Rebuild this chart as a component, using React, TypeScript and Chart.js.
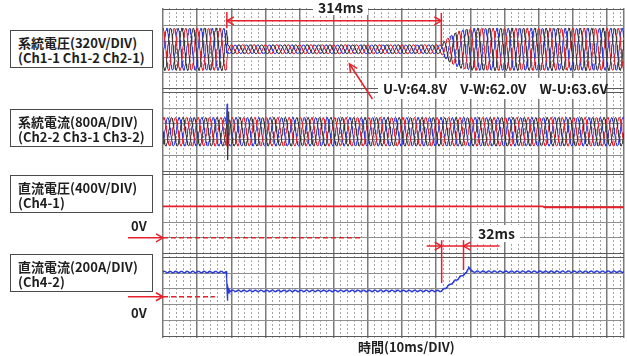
import React, { useEffect, useRef } from 'react';
import { Chart, registerables } from 'chart.js';

Chart.register(...registerables);

// ---------------- time base ----------------
const T_END_MS = 675;
const SAMPLE_MS = 0.4;
const LINE_FREQ_HZ = 60;
const TIME_DIV_MS = 10;
const MAJOR_EVERY_DIVS = 5;

// ---------------- panels ----------------
const DIVS_PER_PANEL = 5;
const PANEL_MARGIN_DIV = 0.127;
const panelIds = ['y1', 'y2', 'y3', 'y4'];
const panelUnitPerDiv = [320, 800, 400, 200];
const panelCentreValue = [0, 0, 600, 0];
const panelTitles = ['系統電圧(320V/DIV)', '系統電流(800A/DIV)', '直流電圧(400V/DIV)', '直流電流(200A/DIV)'];
const panelChannels = ['(Ch1-1 Ch1-2 Ch2-1)', '(Ch2-2 Ch3-1 Ch3-2)', '(Ch4-1)', '(Ch4-2)'];

// ---------------- panel 1: system voltage ----------------
const phaseColors = ['#3b3b3b', '#e3262f', '#2f3bd8'];
const voltagePhaseDeg = [210, 90, -30];
const voltageNormalPeakV = [432, 430, 428];
const voltageDipRmsV = [63.6, 64.8, 62.0];
const voltageEnvTimesMs = [0, 93.4, 94.6, 407.5, 414, 421, 429, 437, 447, 458, 675];
const voltageEnvLevel = [1, 1, 0, 0, 0.3, 0.55, 0.74, 0.88, 0.96, 1, 1];

// ---------------- panel 2: system current ----------------
const currentPeakA = [725, 725, 725];
const currentPhaseDeg = [180, 60, -60];
const currentSpikeTimesMs = [93.2, 94.0, 94.8, 95.6, 96.6, 98.0];
const currentSpikeA = [
  [0, -600, -2100, 300, -80, 0],
  [0, 800, -300, 150, -50, 0],
  [0, 1300, -500, 250, -80, 0],
];

// ---------------- panel 3: DC voltage ----------------
const dcVoltageTimesMs = [0, 556, 559, 675];
const dcVoltageV = [800, 800, 778, 778];
const zeroRefEndMs = [292, 76];

// ---------------- panel 4: DC current ----------------
const dcCurrentTimesMs = [0, 93.4, 94.2, 95.0, 95.8, 96.8, 98, 408, 441, 444, 448, 452, 458, 675];
const dcCurrentA = [316, 316, -60, 130, 40, 95, 76, 76, 290, 300, 386, 322, 320, 320];
const DC_RIPPLE_A = 9;
const DC_RIPPLE_HZ = 120;

// ---------------- annotations ----------------
const dipSpanMs = [93.5, 407.5];
const dcRampSpanMs = [408, 440];
const dipReadings = ['U-V:64.8V', 'V-W:62.0V', 'W-U:63.6V'];
const RED = '#e8202a';
const FONT = '"Noto Sans CJK JP", "Noto Sans", sans-serif';

function interp(ts: number[], vs: number[], t: number) {
  if (t <= ts[0]) return vs[0];
  for (let i = 1; i < ts.length; i++) {
    if (t <= ts[i]) {
      const f = (t - ts[i - 1]) / (ts[i] - ts[i - 1]);
      return vs[i - 1] + f * (vs[i] - vs[i - 1]);
    }
  }
  return vs[vs.length - 1];
}

function sampleTimes(extra: number[]) {
  const s: number[] = [];
  for (let t = 0; t <= T_END_MS + 1e-9; t += SAMPLE_MS) s.push(+t.toFixed(3));
  extra.forEach((e) => s.push(e));
  return Array.from(new Set(s)).sort((a, b) => a - b);
}

function chevron(ctx: CanvasRenderingContext2D, tx: number, ty: number, dx: number, dy: number, len = 7, half = 4) {
  const n = Math.hypot(dx, dy);
  dx /= n; dy /= n;
  const bx = tx - dx * len, by = ty - dy * len;
  const px = -dy, py = dx;
  ctx.beginPath();
  ctx.moveTo(bx + px * half, by + py * half);
  ctx.lineTo(tx, ty);
  ctx.lineTo(bx - px * half, by - py * half);
  ctx.stroke();
}

const marksPlugin = {
  id: 'scopeMarks',
  afterDatasetsDraw(chart: any) {
    const { ctx, chartArea, scales } = chart;
    const xs = scales.x, y1 = scales.y1, y3 = scales.y3, y4 = scales.y4;
    ctx.save();
    ctx.strokeStyle = RED;
    ctx.lineWidth = 1.5;
    const seg = (a: number, b: number, c: number, d: number) => {
      ctx.beginPath(); ctx.moveTo(a, b); ctx.lineTo(c, d); ctx.stroke();
    };
    // 314 ms span
    const xa = xs.getPixelForValue(dipSpanMs[0]);
    const xb = xs.getPixelForValue(dipSpanMs[1]);
    const yArrow = y1.getPixelForValue(580);
    seg(xa, y1.getPixelForValue(760), xa, y1.getPixelForValue(430));
    seg(xb, y1.getPixelForValue(740), xb, y1.getPixelForValue(60));
    seg(xa, yArrow, xb, yArrow);
    chevron(ctx, xa, yArrow, -1, 0);
    chevron(ctx, xb, yArrow, 1, 0);
    // pointer to dip waveform
    const px = xs.getPixelForValue(273), py = y1.getPixelForValue(-300);
    seg(px + 23, py + 35, px, py);
    chevron(ctx, px, py, -23, -35, 8, 4);
    // 32 ms span
    const xc = xs.getPixelForValue(dcRampSpanMs[0]);
    const xd = xs.getPixelForValue(dcRampSpanMs[1]);
    const yTop = y4.getPixelForValue(720);
    const yArr = y4.getPixelForValue(645);
    seg(xc, yTop, xc, y4.getPixelForValue(175));
    seg(xd, yTop, xd, y4.getPixelForValue(340));
    seg(xc - 15, yArr, xd + 36, yArr);
    chevron(ctx, xc, yArr, 1, 0);
    chevron(ctx, xd, yArr, -1, 0);
    // 0V reference arrows
    [y3, y4].forEach((s: any) => {
      const y0 = s.getPixelForValue(0);
      seg(chartArea.left - 35, y0, chartArea.left, y0);
      chevron(ctx, chartArea.left, y0, 1, 0);
    });
    ctx.restore();
  },
};

function buildDatasets() {
  const ds: any[] = [];
  const omega = (2 * Math.PI * LINE_FREQ_HZ) / 1000;
  // panel 1
  const tv = sampleTimes([]);
  for (let p = 0; p < 3; p++) {
    const dip = voltageDipRmsV[p] * Math.SQRT2;
    const norm = voltageNormalPeakV[p];
    const ph = (voltagePhaseDeg[p] * Math.PI) / 180;
    ds.push({
      yAxisID: 'y1', borderColor: phaseColors[p], borderWidth: 1,
      data: tv.map((t) => {
        const lvl = interp(voltageEnvTimesMs, voltageEnvLevel, t);
        return { x: t, y: (dip + lvl * (norm - dip)) * Math.sin(omega * t + ph) };
      }),
    });
  }
  // panel 2
  const ti = sampleTimes(currentSpikeTimesMs);
  for (let p = 0; p < 3; p++) {
    const ph = (currentPhaseDeg[p] * Math.PI) / 180;
    ds.push({
      yAxisID: 'y2', borderColor: phaseColors[p], borderWidth: 1,
      data: ti.map((t) => ({
        x: t,
        y: currentPeakA[p] * Math.sin(omega * t + ph) + interp(currentSpikeTimesMs, currentSpikeA[p], t),
      })),
    });
  }
  // panel 3
  ds.push({
    yAxisID: 'y3', borderColor: RED, borderWidth: 1.8,
    data: dcVoltageTimesMs.map((t, i) => ({ x: t, y: dcVoltageV[i] })),
  });
  ds.push({
    yAxisID: 'y3', borderColor: RED, borderWidth: 1.5, borderDash: [5, 3],
    data: [{ x: 0, y: 0 }, { x: zeroRefEndMs[0], y: 0 }],
  });
  // panel 4
  const td = sampleTimes(dcCurrentTimesMs);
  ds.push({
    yAxisID: 'y4', borderColor: '#2a3bd6', borderWidth: 1.3,
    data: td.map((t) => ({
      x: t,
      y: interp(dcCurrentTimesMs, dcCurrentA, t) + DC_RIPPLE_A * Math.sin((2 * Math.PI * DC_RIPPLE_HZ * t) / 1000),
    })),
  });
  ds.push({
    yAxisID: 'y4', borderColor: RED, borderWidth: 1.5, borderDash: [5, 3],
    data: [{ x: 0, y: 0 }, { x: zeroRefEndMs[1], y: 0 }],
  });
  return ds.map((d) => ({ ...d, xAxisID: 'x', pointRadius: 0, tension: 0, fill: false }));
}

function buildScales() {
  const minor: number[] = [];
  const major: number[] = [];
  for (let t = 0; t <= T_END_MS; t += TIME_DIV_MS) {
    if ((t / TIME_DIV_MS) % MAJOR_EVERY_DIVS === 0) major.push(t);
    else minor.push(t);
  }
  major.push(T_END_MS);
  const hidden = { display: false };
  const scales: any = {
    x: {
      type: 'linear', position: 'bottom', min: 0, max: T_END_MS,
      ticks: hidden, border: { display: false, dash: [2, 2] },
      grid: { color: '#a4a4a4', lineWidth: 1, drawTicks: false },
      afterBuildTicks: (s: any) => { s.ticks = minor.map((v) => ({ value: v })); },
    },
    xMajor: {
      type: 'linear', position: 'bottom', min: 0, max: T_END_MS,
      ticks: hidden, border: { display: false },
      grid: { color: '#7a7a7a', lineWidth: 1.5, drawTicks: false },
      afterBuildTicks: (s: any) => { s.ticks = major.map((v) => ({ value: v })); },
    },
  };
  // stacked left axes are laid out last-declared on top, so declare bottom panel first
  for (let i = panelIds.length - 1; i >= 0; i--) {
    const id = panelIds[i];
    const u = panelUnitPerDiv[i], c = panelCentreValue[i];
    const half = DIVS_PER_PANEL / 2;
    const ticks: number[] = [];
    for (let k = -half; k <= half + 1e-9; k += 1) ticks.push(c + k * u);
    scales[id] = {
      type: 'linear', position: 'left', stack: 'scope', stackWeight: 1,
      min: c - (half + PANEL_MARGIN_DIV) * u, max: c + (half + PANEL_MARGIN_DIV) * u,
      ticks: hidden, border: { display: false },
      grid: {
        drawTicks: false, lineWidth: 1,
        color: (ctx: any) => (ctx.tick && Math.abs(Math.abs(ctx.tick.value - c) - half * u) < 1e-6 ? '#5a5a5a' : '#8e8e8e'),
      },
      afterBuildTicks: (s: any) => { s.ticks = ticks.map((v) => ({ value: v })); },
    };
  }
  return scales;
}

const boxTops = [30, 109, 175, 254];

export default function App() {
  const canvasRef = useRef<HTMLCanvasElement>(null);
  useEffect(() => {
    const chart = new Chart(canvasRef.current as HTMLCanvasElement, {
      type: 'line',
      data: { datasets: buildDatasets() },
      options: {
        animation: false,
        responsive: false,
        devicePixelRatio: 1,
        parsing: false,
        normalized: true,
        events: [],
        layout: { padding: { left: 163, right: 3, top: 8, bottom: 18 } },
        plugins: { legend: { display: false }, tooltip: { enabled: false } },
        scales: buildScales(),
      } as any,
      plugins: [marksPlugin],
    });
    return () => chart.destroy();
  }, []);

  const txt: React.CSSProperties = { position: 'absolute', fontFamily: FONT, fontWeight: 700, color: '#1e1e1e', whiteSpace: 'nowrap' };

  return (
    <div style={{ position: 'absolute', left: 0, top: 0, width: 627, height: 356, background: '#fff', overflow: 'hidden' }}>
      <canvas ref={canvasRef} width={627} height={356} style={{ position: 'absolute', left: 0, top: 0, width: 627, height: 356 }} />
      {panelTitles.map((t, i) => (
        <div key={t} style={{ ...txt, left: 10, top: boxTops[i], width: 143, height: 38, boxSizing: 'border-box', border: '1px solid #4a4a4a', background: '#fff', paddingLeft: 7, paddingTop: 4, fontSize: 13, lineHeight: '15px' }}>
          <div>{t}</div>
          <div>{panelChannels[i]}</div>
        </div>
      ))}
      <div style={{ ...txt, left: 313, top: 0, width: 55, height: 15, background: '#fff', fontSize: 14, lineHeight: '15px', textAlign: 'center' }}>314ms</div>
      <div style={{ ...txt, left: 378, top: 78, width: 227, height: 21, background: '#fff', fontSize: 13.5, lineHeight: '21px', display: 'flex', gap: 13, paddingLeft: 5, boxSizing: 'border-box' }}>
        {dipReadings.map((r) => <span key={r}>{r}</span>)}
      </div>
      <div style={{ ...txt, left: 473, top: 225, width: 47, height: 17, background: '#fff', fontSize: 14, lineHeight: '17px', textAlign: 'center' }}>32ms</div>
      <div style={{ ...txt, left: 131, top: 217, fontSize: 13, lineHeight: '17px' }}>0V</div>
      <div style={{ ...txt, left: 131, top: 304, fontSize: 13, lineHeight: '17px' }}>0V</div>
      <div style={{ ...txt, left: 358, top: 339, width: 94, fontSize: 13, lineHeight: '16px', textAlign: 'center' }}>時間(10ms/DIV)</div>
    </div>
  );
}
